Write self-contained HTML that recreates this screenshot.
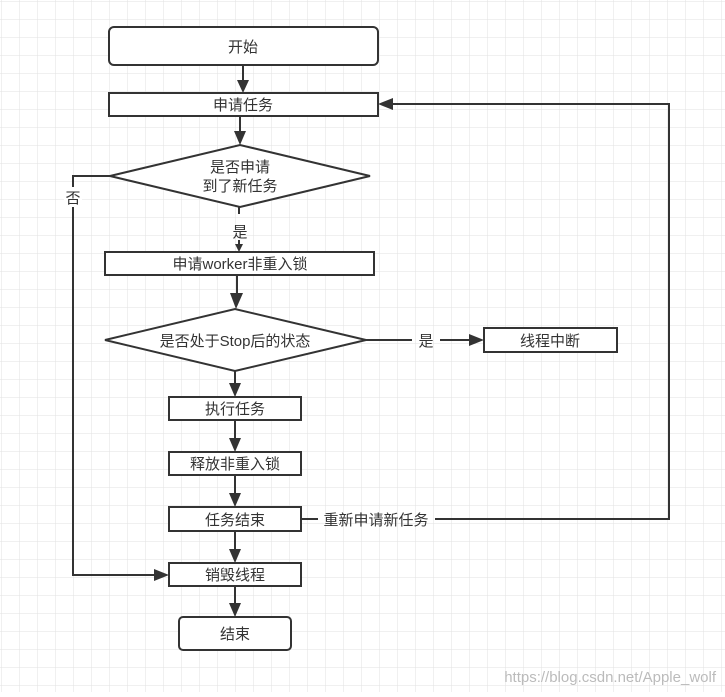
<!DOCTYPE html>
<html><head><meta charset="utf-8"><style>
body{margin:0;width:725px;height:692px;overflow:hidden;background:#fff;}
svg text{font-family:"Liberation Sans","Noto Sans CJK SC",sans-serif;font-size:15px;fill:#333;}
</style></head><body>
<svg width="725" height="692" xmlns="http://www.w3.org/2000/svg">
<defs>
<pattern id="g" width="18" height="18" patternUnits="userSpaceOnUse" x="2" y="2">
<path d="M18 0V18H0" fill="none" stroke="#e2e2e2" stroke-width="1"/>
</pattern>
</defs>
<rect width="725" height="692" fill="url(#g)"/>
<g stroke="#333" stroke-width="2" fill="#fff">
<rect x="109" y="27" width="269" height="38" rx="5"/>
<rect x="109" y="93" width="269" height="23"/>
<polygon points="110,176 240,145 370,176 240,207"/>
<rect x="105" y="252" width="269" height="23"/>
<polygon points="105,340 235,309 366,340 235,371"/>
<rect x="484" y="328" width="133" height="24"/>
<rect x="169" y="397" width="132" height="23"/>
<rect x="169" y="452" width="132" height="23"/>
<rect x="169" y="507" width="132" height="24"/>
<rect x="169" y="563" width="132" height="23"/>
<rect x="179" y="617" width="112" height="33" rx="4"/>
</g>
<g fill="#333">
<path d="M243 65V82" stroke="#333" stroke-width="2"/><path d="M237 80h12l-6 13z"/>
<path d="M240 116V132" stroke="#333" stroke-width="2"/><path d="M234 131h12l-6 14z"/>
<path d="M239 207V214" stroke="#333" stroke-width="2"/>
<path d="M239 240V246" stroke="#333" stroke-width="2"/><path d="M235 244h8l-4 8z"/>
<path d="M237 275V295" stroke="#333" stroke-width="2"/><path d="M230 293h13l-7 16z"/>
<path d="M235 371V384" stroke="#333" stroke-width="2"/><path d="M229 383h12l-6 14z"/>
<path d="M235 420V438" stroke="#333" stroke-width="2"/><path d="M229 438h12l-6 14z"/>
<path d="M235 475V493" stroke="#333" stroke-width="2"/><path d="M229 493h12l-6 14z"/>
<path d="M235 531V549" stroke="#333" stroke-width="2"/><path d="M229 549h12l-6 14z"/>
<path d="M235 586V603" stroke="#333" stroke-width="2"/><path d="M229 603h12l-6 14z"/>
<path d="M366 340H412M440 340H470" stroke="#333" stroke-width="2" fill="none"/><path d="M469 334v12l15-6z"/>
<path d="M110 176H73V575H156" stroke="#333" stroke-width="2" fill="none"/><path d="M154 569v12l15-6z"/>
<path d="M301 519H318M435 519H669V104H392" stroke="#333" stroke-width="2" fill="none"/><path d="M393 98v12l-15-6z"/>
</g>
<rect x="64" y="187" width="18" height="20" fill="#fff"/>
<g text-anchor="middle">
<text x="243" y="52">开始</text>
<text x="243" y="110">申请任务</text>
<text x="240" y="172">是否申请</text>
<text x="240" y="191">到了新任务</text>
<text x="240" y="237">是</text>
<text x="240" y="269">申请worker非重入锁</text>
<text x="235" y="346">是否处于Stop后的状态</text>
<text x="426" y="346">是</text>
<text x="550" y="346">线程中断</text>
<text x="235" y="414">执行任务</text>
<text x="235" y="469">释放非重入锁</text>
<text x="235" y="525">任务结束</text>
<text x="376" y="525">重新申请新任务</text>
<text x="235" y="580">销毁线程</text>
<text x="235" y="639">结束</text>
<text x="73" y="203">否</text>
</g>
<text x="716" y="682" text-anchor="end" style="fill:#bbb;font-size:15px">https://blog.csdn.net/Apple_wolf</text>
</svg>
</body></html>
